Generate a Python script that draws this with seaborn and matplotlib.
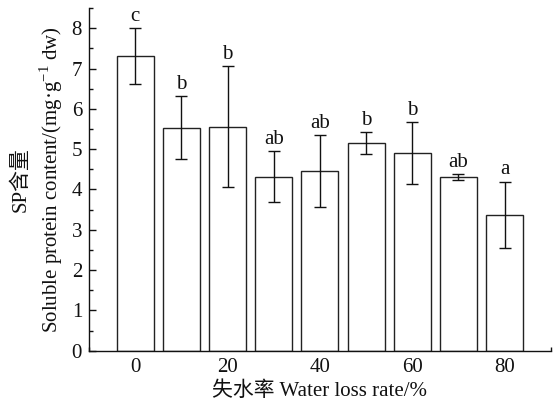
import matplotlib
matplotlib.use("Agg")
import matplotlib.pyplot as plt
from matplotlib.ticker import MultipleLocator
import seaborn as sns
import pandas as pd

# Soluble protein content at each water-loss level (mean ± SD) with significance letters
water_loss = [0, 10, 20, 30, 40, 50, 60, 70, 80]
sp_mean = [7.31, 5.53, 5.56, 4.32, 4.46, 5.15, 4.90, 4.31, 3.37]
sp_sd = [0.69, 0.78, 1.50, 0.63, 0.89, 0.27, 0.77, 0.07, 0.82]
sig_letters = ["c", "b", "b", "ab", "ab", "b", "b", "ab", "a"]
x_ticks = [0, 20, 40, 60, 80]

sns.set_theme(style="ticks")
plt.rcParams["font.family"] = ["Liberation Serif", "Noto Sans CJK SC", "DejaVu Sans"]
plt.rcParams["mathtext.fontset"] = "custom"
plt.rcParams["mathtext.rm"] = "Liberation Serif"

df = pd.DataFrame({"rate": water_loss, "sp": sp_mean})

fig = plt.figure(figsize=(5.53, 4.05), dpi=100)
ax = fig.add_axes([0.161, 0.134, 0.835, 0.846])

sns.barplot(data=df, x="rate", y="sp", native_scale=True, width=0.8,
            color="white", edgecolor="#222222", linewidth=1.0, ax=ax)
ax.errorbar(water_loss, sp_mean, yerr=sp_sd, fmt="none", ecolor="#111111",
            elinewidth=1.0, capsize=4, capthick=1.0)

for x, m, s, lab in zip(water_loss, sp_mean, sp_sd, sig_letters):
    ax.text(x, m + s + 0.06, lab, ha="center", va="bottom", fontsize=15,
            color="#111111")

ax.set_xlim(-10, 90)
ax.set_ylim(0, 8.5)
ax.set_xticks(x_ticks)
ax.set_xticklabels([str(t) for t in x_ticks])
ax.xaxis.set_minor_locator(MultipleLocator(10))
ax.yaxis.set_major_locator(MultipleLocator(1))
ax.yaxis.set_minor_locator(MultipleLocator(0.5))
ax.tick_params(axis="both", which="major", direction="in", length=5, width=1,
               labelsize=15, colors="#111111", pad=5)
ax.tick_params(axis="both", which="minor", direction="in", length=3, width=1,
               colors="#111111")

for side in ("top", "right"):
    ax.spines[side].set_visible(False)
for side in ("left", "bottom"):
    ax.spines[side].set_linewidth(1.0)
    ax.spines[side].set_color("#111111")

ax.set_xlabel("失水率 Water loss rate/%", fontsize=15, color="#111111", labelpad=3)
ax.set_ylabel("SP含量\nSoluble protein content/(mg·g$^{-1}$ dw)", fontsize=15,
              color="#111111", linespacing=1.3, labelpad=5)

fig.savefig("out.png", dpi=100)
